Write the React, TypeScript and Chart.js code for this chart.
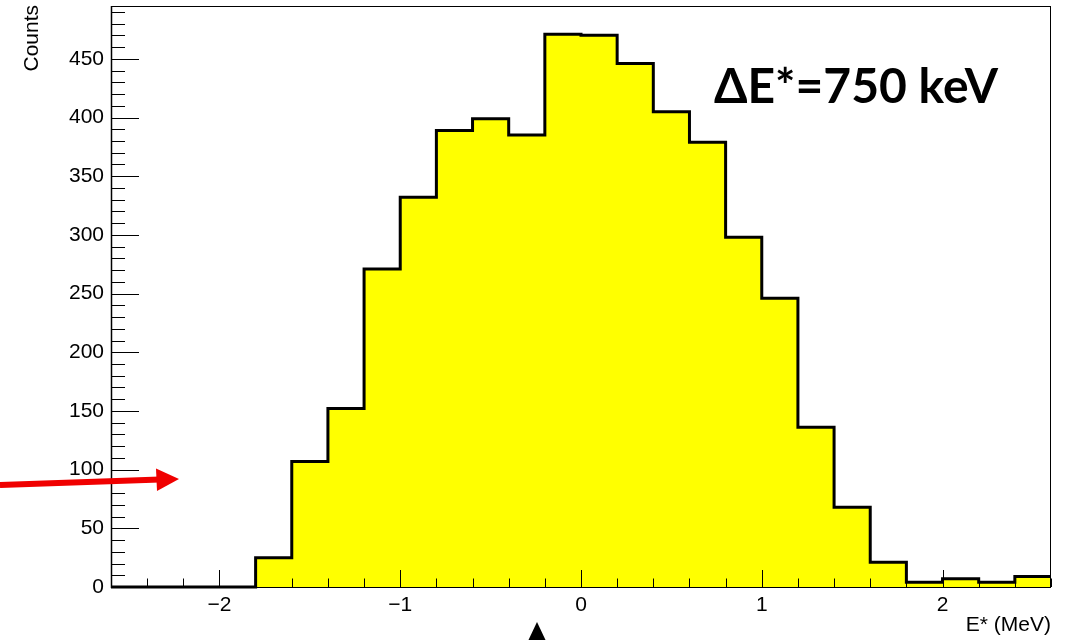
import React, { useEffect, useRef } from "react";
import { Chart, registerables } from "chart.js";

Chart.register(...registerables);

// Bin edges (MeV), 0.2 MeV wide bins from -2.6 to 2.6
const binEdges = [
  -2.6, -2.4, -2.2, -2.0, -1.8, -1.6, -1.4, -1.2, -1.0, -0.8, -0.6, -0.4, -0.2,
  0.0, 0.2, 0.4, 0.6, 0.8, 1.0, 1.2, 1.4, 1.6, 1.8, 2.0, 2.2, 2.4, 2.6,
];
// Counts per bin (26 bins)
const counts = [
  0, 0, 0, 0, 25, 107, 152, 271, 332, 389, 399, 385, 471, 470, 446, 405, 379,
  298, 246, 136, 68, 21, 4, 7, 4, 9,
];
const xMajorTicks = [-2, -1, 0, 1, 2];
const yMajorTicks = [0, 50, 100, 150, 200, 250, 300, 350, 400, 450];
const xMin = -2.6;
const xMax = 2.6;
const yMin = 0;
const yMax = 495;
const xTitle = "E* (MeV)";
const yTitle = "Counts";
const annotationText = "\u0394E*=750 keV";

const FONT = "'Liberation Sans', Arial, Helvetica, sans-serif";

const rootStylePlugin = {
  id: "rootStyle",
  afterDatasetsDraw(chart: any) {
    const { ctx, chartArea, scales } = chart;
    const xs = scales.x;
    const ys = scales.y;
    const { left, right, top, bottom } = chartArea;
    ctx.save();
    ctx.strokeStyle = "#000";
    ctx.lineWidth = 1;
    // frame
    ctx.strokeRect(Math.round(left) + 0.5, Math.round(top) + 0.5, Math.round(right - left) - 1, Math.round(bottom - top));
    ctx.lineWidth = 1.5;
    ctx.beginPath();
    ctx.moveTo(left + 0.5, top);
    ctx.lineTo(left + 0.5, bottom + 1);
    ctx.stroke();

    // y ticks
    ctx.lineWidth = 1;
    ctx.beginPath();
    for (let v = 0; v <= yMax; v += 10) {
      const py = Math.round(ys.getPixelForValue(v)) + 0.5;
      const major = v % 50 === 0;
      ctx.moveTo(left, py);
      ctx.lineTo(left + (major ? 28 : 14), py);
    }
    ctx.stroke();

    // x ticks
    ctx.beginPath();
    for (let i = -13; i <= 13; i++) {
      const v = i * 0.2;
      const px = Math.round(xs.getPixelForValue(v)) + 0.5;
      const major = i % 5 === 0;
      ctx.moveTo(px, bottom);
      ctx.lineTo(px, bottom - (major ? 17 : 8.5));
    }
    ctx.stroke();

    // axis titles
    ctx.fillStyle = "#000";
    ctx.font = `21px ${FONT}`;
    ctx.textAlign = "right";
    ctx.textBaseline = "middle";
    ctx.fillText(xTitle, right, 625);

    ctx.save();
    ctx.translate(32, 5);
    ctx.rotate(-Math.PI / 2);
    ctx.textAlign = "right";
    ctx.textBaseline = "middle";
    ctx.fillText(yTitle, 0, 0);
    ctx.restore();

    // annotation text
    ctx.font = `bold 48px Lato, 'Open Sans', sans-serif`;
    ctx.textAlign = "left";
    ctx.textBaseline = "alphabetic";
    ctx.fillText(annotationText, 714, 103);

    // red arrow
    ctx.strokeStyle = "#f00000";
    ctx.fillStyle = "#f00000";
    ctx.lineWidth = 6;
    ctx.beginPath();
    ctx.moveTo(0, 485);
    ctx.lineTo(160, 479.5);
    ctx.stroke();
    ctx.beginPath();
    ctx.moveTo(156, 468.5);
    ctx.lineTo(179, 479);
    ctx.lineTo(157, 491);
    ctx.closePath();
    ctx.fill();

    // black triangle marker
    ctx.fillStyle = "#000";
    ctx.beginPath();
    ctx.moveTo(537, 622);
    ctx.lineTo(546, 641);
    ctx.lineTo(528, 641);
    ctx.closePath();
    ctx.fill();

    ctx.restore();
  },
};

export default function App() {
  const ref = useRef<HTMLCanvasElement | null>(null);
  useEffect(() => {
    if (!ref.current) return;
    const points = counts.map((c, i) => ({ x: binEdges[i], y: c }));
    points.push({ x: binEdges[binEdges.length - 1], y: counts[counts.length - 1] });
    const chart = new Chart(ref.current, {
      type: "line",
      data: {
        datasets: [
          {
            data: points,
            stepped: "before",
            borderColor: "#000",
            borderWidth: 3,
            backgroundColor: "#ffff00",
            fill: "origin",
            pointRadius: 0,
            clip: false as any,
          },
        ],
      },
      options: {
        responsive: false,
        animation: false,
        events: [],
        layout: { padding: { top: 6, right: 25, left: 0, bottom: 0 } },
        plugins: { legend: { display: false }, tooltip: { enabled: false } },
        scales: {
          x: {
            type: "linear",
            min: xMin,
            max: xMax,
            grid: { display: false, drawTicks: false },
            border: { display: false },
            afterBuildTicks: (s: any) => {
              s.ticks = xMajorTicks.map((v) => ({ value: v }));
            },
            afterFit: (s: any) => {
              s.height = 53;
              s.paddingLeft = 0;
              s.paddingRight = 0;
            },
            ticks: {
              autoSkip: false,
              maxRotation: 0,
              padding: 6,
              color: "#000",
              font: { family: FONT, size: 21 },
              callback: (v: any) => (v < 0 ? "\u2212" + Math.abs(v) : String(v)),
            },
          },
          y: {
            type: "linear",
            min: yMin,
            max: yMax,
            grid: { display: false, drawTicks: false },
            border: { display: false },
            afterBuildTicks: (s: any) => {
              s.ticks = yMajorTicks.map((v) => ({ value: v }));
            },
            afterFit: (s: any) => {
              s.width = 111;
              s.paddingTop = 0;
              s.paddingBottom = 0;
            },
            ticks: {
              autoSkip: false,
              padding: 7,
              color: "#000",
              font: { family: FONT, size: 21 },
              callback: (v: any) => String(v),
            },
          },
        },
      },
      plugins: [rootStylePlugin],
    });
    return () => chart.destroy();
  }, []);
  return (
    <div style={{ position: "fixed", left: 0, top: 0, width: 1076, height: 640, background: "#fff" }}>
      <canvas ref={ref} width={1076} height={640} style={{ width: 1076, height: 640, display: "block" }} />
    </div>
  );
}
